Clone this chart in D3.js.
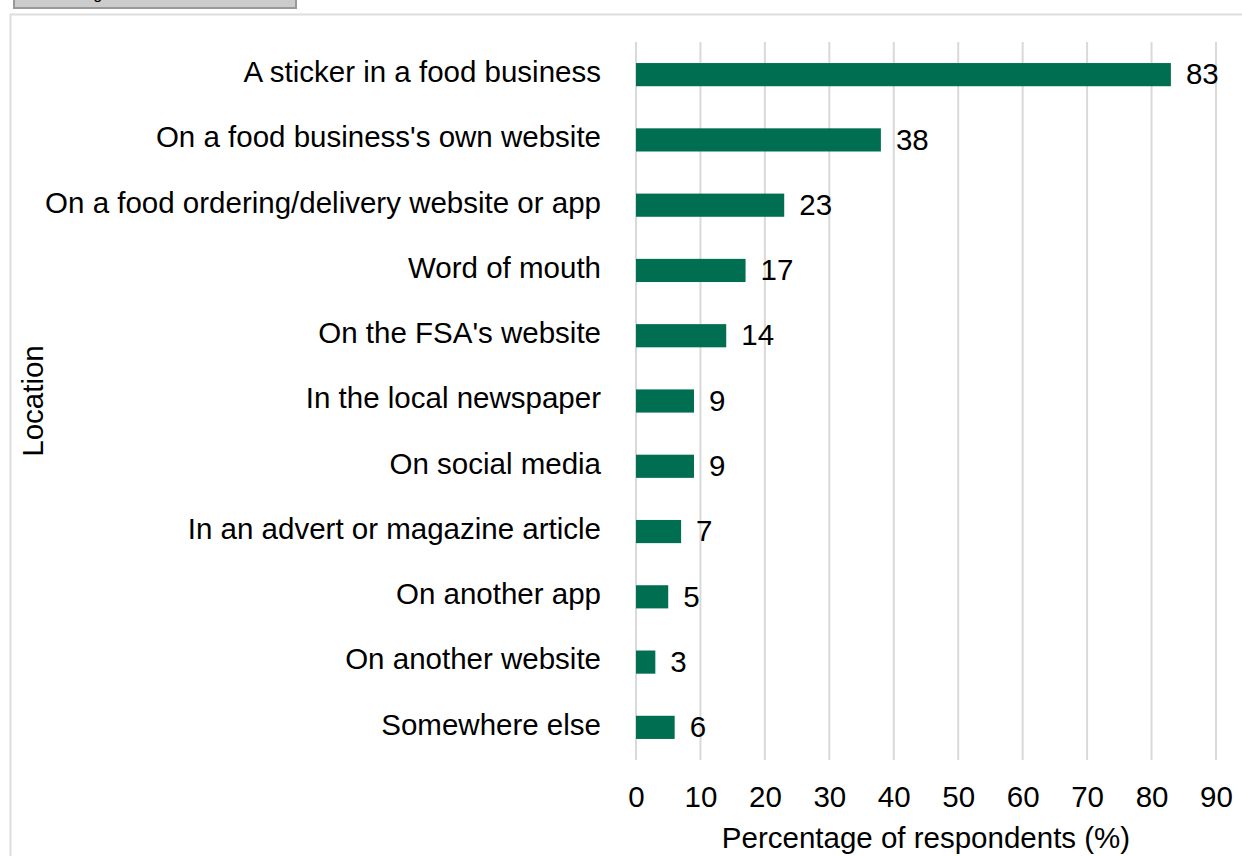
<!DOCTYPE html>
<html>
<head>
<meta charset="utf-8">
<script src="https://cdn.jsdelivr.net/npm/d3@7"></script>
<style>
  html, body { margin: 0; padding: 0; background: #fff; overflow: hidden; }
  svg { display: block; font-family: "Liberation Sans", Arial, sans-serif; }
</style>
</head>
<body>
<svg id="chart" width="1242" height="856"></svg>
<script>
const categories = [
  "A sticker in a food business",
  "On a food business's own website",
  "On a food ordering/delivery website or app",
  "Word of mouth",
  "On the FSA's website",
  "In the local newspaper",
  "On social media",
  "In an advert or magazine article",
  "On another app",
  "On another website",
  "Somewhere else"
];
const values = [83, 38, 23, 17, 14, 9, 9, 7, 5, 3, 6];
const xTicks = [0, 10, 20, 30, 40, 50, 60, 70, 80, 90];
const xTitle = "Percentage of respondents (%)";
const yTitle = "Location";

(function () {
const svg = d3.select("#chart");
const W = 1242, H = 856;
const pL = 636, pR = 1216, pT = 42, pB = 760;
const fs = 29.5;

// top button stub
svg.append("rect").attr("x", 14).attr("y", -10).attr("width", 282).attr("height", 18)
  .attr("fill", "#cccccc").attr("stroke", "#999").attr("stroke-width", 2);
svg.append("text").attr("x", 80).attr("y", -1).attr("font-size", 16).attr("fill", "#000").text("Figure");

// frame
svg.append("path").attr("d", `M${W + 5},14.5 H10.5 V${H + 5}`)
  .attr("fill", "none").attr("stroke", "#dedede").attr("stroke-width", 2);

const x = d3.scaleLinear().domain([0, 90]).range([pL, pR]);
const y = d3.scaleBand().domain(categories).range([pT, pB]).paddingInner(0.645).paddingOuter(0.3225);

// gridlines
svg.append("g").selectAll("line").data(xTicks).join("line")
  .attr("x1", d => x(d)).attr("x2", d => x(d))
  .attr("y1", pT).attr("y2", pB)
  .attr("stroke", "#d9d9d9").attr("stroke-width", 2);

// bars
svg.append("g").selectAll("rect").data(values).join("rect")
  .attr("x", x(0)).attr("y", (d, i) => y(categories[i]))
  .attr("width", d => x(d) - x(0)).attr("height", y.bandwidth())
  .attr("fill", "#006E51");

// value labels
svg.append("g").selectAll("text").data(values).join("text")
  .attr("x", d => x(d) + 15)
  .attr("y", (d, i) => y(categories[i]) + y.bandwidth() / 2)
  .attr("dy", "0.33em")
  .attr("font-size", fs).attr("fill", "#000")
  .text(d => d);

// category labels
const yAxis = d3.axisLeft(y).tickSize(0).tickPadding(pL - 601);
const ya = svg.append("g").attr("transform", `translate(${pL},0)`).call(yAxis);
ya.select(".domain").remove();
ya.selectAll("text").attr("font-size", fs).attr("fill", "#000").attr("font-family", null).attr("dy", "0.25em");

// x axis labels
const xAxis = d3.axisBottom(x).tickValues(xTicks).tickSize(0).tickPadding(27);
const xa = svg.append("g").attr("transform", `translate(0,${pB})`).call(xAxis);
xa.select(".domain").remove();
xa.selectAll("text").attr("font-size", fs).attr("fill", "#000").attr("font-family", null).attr("dy", "0.69em");

// titles
svg.append("text").attr("x", (pL + pR) / 2).attr("y", 848)
  .attr("text-anchor", "middle").attr("font-size", fs).attr("fill", "#000").text(xTitle);
svg.append("text").attr("transform", `translate(43,${(pT + pB) / 2}) rotate(-90)`)
  .attr("text-anchor", "middle").attr("font-size", fs).attr("fill", "#000").text(yTitle);
})();
</script>
</body>
</html>
